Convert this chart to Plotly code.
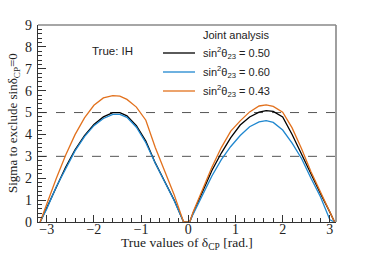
import plotly.graph_objects as go

# True values of delta_CP [rad.]
delta_cp = [-3.14, -3.0, -2.8, -2.6, -2.4, -2.2, -2.0, -1.8, -1.6, -1.45, -1.3, -1.1,
            -0.9, -0.7, -0.5, -0.3, -0.1, 0.03, 0.1, 0.3, 0.5, 0.7, 0.9, 1.1, 1.3,
            1.5, 1.65, 1.8, 2.0, 2.2, 2.4, 2.6, 2.8, 3.0, 3.1]

sigma_050 = [0.0, 0.65, 1.65, 2.5, 3.3, 3.95, 4.45, 4.8, 5.0, 5.0, 4.85, 4.4,
             3.7, 2.7, 1.85, 1.0, 0.0, 0.0, 0.4, 1.4, 2.35, 3.15, 3.85, 4.43, 4.8,
             5.02, 5.09, 5.05, 4.8, 4.0, 3.1, 2.15, 1.3, 0.45, 0.0]

sigma_060 = [0.0, 0.6, 1.6, 2.45, 3.25, 3.9, 4.4, 4.73, 4.92, 4.92, 4.78, 4.33,
             3.62, 2.68, 1.83, 0.98, 0.0, 0.0, 0.35, 1.25, 2.1, 2.85, 3.45, 3.95, 4.35,
             4.57, 4.63, 4.55, 4.2, 3.6, 2.9, 2.0, 1.15, 0.1, 0.0]

sigma_043 = [0.0, 0.83, 1.98, 3.05, 3.99, 4.76, 5.33, 5.67, 5.77, 5.75, 5.6, 5.25,
             4.65, 3.4, 2.3, 1.25, 0.0, 0.0, 0.45, 1.5, 2.5, 3.4, 4.15, 4.62, 5.03,
             5.3, 5.35, 5.28, 5.02, 4.3, 3.35, 2.3, 1.4, 0.5, 0.0]

series_labels = ["sin<sup>2</sup>θ<sub>23</sub> = 0.50",
                 "sin<sup>2</sup>θ<sub>23</sub> = 0.60",
                 "sin<sup>2</sup>θ<sub>23</sub> = 0.43"]
series_colors = ["#000000", "#1f87cf", "#e2711d"]
series_values = [sigma_050, sigma_060, sigma_043]

x_ticks = [-3, -2, -1, 0, 1, 2, 3]
x_ticktext = ["\u22123", "\u22122", "\u22121", "0", "1", "2", "3"]
y_ticks = [0, 1, 2, 3, 4, 5, 6, 7, 8, 9]
ref_levels = [3, 5]

W, H = 374, 253
L, R, T, B = 38, 38, 25, 31
pw, ph = W - L - R, H - T - B

def px_x(p):
    return (p - L) / pw

def px_y(p):
    return 1 - (p - T) / ph

fig = go.Figure()
for vals, col, name in zip(series_values, series_colors, series_labels):
    fig.add_trace(go.Scatter(x=delta_cp, y=vals, mode="lines", name=name,
                             line=dict(color=col, width=1.3), showlegend=False))

serif = "Liberation Serif, Times New Roman, serif"
sans = "Liberation Sans, Arial, sans-serif"

shapes = []
for lv in ref_levels:
    shapes.append(dict(type="line", xref="paper", yref="y", x0=0, x1=1, y0=lv, y1=lv,
                       line=dict(color="#555555", width=1, dash="dash"), layer="below"))
# frame top/right
shapes.append(dict(type="line", xref="paper", yref="paper", x0=0, x1=1, y0=1, y1=1,
                   line=dict(color="#888888", width=1.6)))
shapes.append(dict(type="line", xref="paper", yref="paper", x0=1, x1=1, y0=0, y1=1,
                   line=dict(color="#888888", width=1.6)))

annotations = []
# legend
leg_rows = [53, 72, 91]
for yy, col, name in zip(leg_rows, series_colors, series_labels):
    shapes.append(dict(type="line", xref="paper", yref="paper",
                       x0=px_x(163), x1=px_x(195), y0=px_y(yy), y1=px_y(yy),
                       line=dict(color=col, width=1.3)))
    annotations.append(dict(x=px_x(201), y=px_y(yy), xref="paper", yref="paper",
                            text=name, showarrow=False, xanchor="left", yanchor="middle",
                            font=dict(family=sans, size=11, color="#222222")))
annotations.append(dict(x=px_x(201), y=px_y(35), xref="paper", yref="paper",
                        text="Joint analysis", showarrow=False, xanchor="left",
                        yanchor="middle", font=dict(family=sans, size=11, color="#222222")))
annotations.append(dict(x=px_x(112), y=px_y(51), xref="paper", yref="paper",
                        text="True: IH", showarrow=False, xanchor="center",
                        yanchor="middle", font=dict(family=sans, size=11.5, color="#222222")))
# axis titles
annotations.append(dict(x=px_x(187), y=px_y(243), xref="paper", yref="paper",
                        text="True values of δ<sub>CP</sub> [rad.]", showarrow=False,
                        xanchor="center", yanchor="middle",
                        font=dict(family=serif, size=13.5, color="#222222")))
annotations.append(dict(x=px_x(14), y=px_y(123), xref="paper", yref="paper",
                        text="Sigma to exclude sinδ<sub>CP</sub>=0", showarrow=False,
                        textangle=-90, xanchor="center", yanchor="middle",
                        font=dict(family=serif, size=13, color="#222222")))

fig.update_layout(
    width=W, height=H,
    margin=dict(l=L, r=R, t=T, b=B, pad=0),
    paper_bgcolor="white", plot_bgcolor="white",
    shapes=shapes, annotations=annotations,
    xaxis=dict(range=[-3.185, 3.13], tickvals=x_ticks, ticktext=x_ticktext,
               ticks="inside", ticklen=7, tickcolor="#333333",
               ticklabelstandoff=-6,
               minor=dict(ticks="inside", ticklen=3.5, dtick=0.2, tick0=0, tickcolor="#333333"),
               showgrid=False, zeroline=False, showline=True, linecolor="#333333",
               linewidth=1.2, tickfont=dict(family=serif, size=14, color="#222222")),
    yaxis=dict(range=[0, 9], tickvals=y_ticks, ticks="inside", ticklen=8,
               tickcolor="#333333", ticklabelstandoff=2,
               minor=dict(ticks="inside", ticklen=4, dtick=0.2, tick0=0, tickcolor="#333333"),
               showgrid=False, zeroline=False, showline=True, linecolor="#333333",
               linewidth=1.2, tickfont=dict(family=serif, size=14, color="#222222")),
)

fig.write_html("out.html", config={"displayModeBar": False},
               post_script="document.body.style.margin='0';")
